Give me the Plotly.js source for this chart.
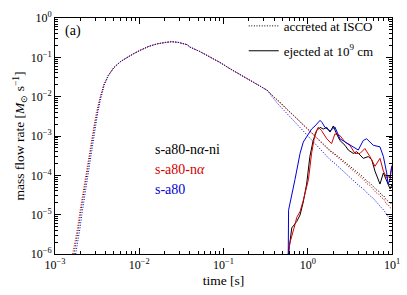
<!DOCTYPE html>
<html><head><meta charset="utf-8">
<script src="https://cdn.plot.ly/plotly-3.0.1.min.js"></script>
<style>html,body{margin:0;padding:0;background:#fff;}#chart{width:407px;height:295px;}
#chart svg text{font-family:"Liberation Serif","Times New Roman",serif !important;}</style>
</head><body><div id="chart"></div>
<script>
// ---- accreted at ISCO (dotted) ----
const tAccRed = [1.62e-3,1.75e-3,1.85e-3,1.95e-3,2.1e-3,2.3e-3,2.5e-3,2.7e-3,2.9e-3,3.1e-3,3.4e-3,3.8e-3,4.3e-3,5.0e-3,6.0e-3,7.2e-3,8.6e-3,1.02e-2,1.3e-2,1.63e-2,2.0e-2,2.4e-2,2.9e-2,3.7e-2,4.0e-2,5.26e-2,6.9e-2,0.09,0.119,0.16,0.206,0.25,0.294,0.328,0.4,0.47,0.6,0.8,1.0,1.3,1.6,1.84,2.1,2.3,2.5,2.8,3.2,3.6,4.0,4.56,5.0,5.5,6.0,6.5,7.0,7.5,8.0,8.5,9.0,9.5,10];
const yAccRed = [1e-6,2.2e-6,4.5e-6,1.0e-5,2.8e-5,9e-5,2.5e-4,7e-4,1.8e-3,4.0e-3,9e-3,2.0e-2,3.5e-2,5.5e-2,7.8e-2,0.1,0.125,0.15,0.19,0.22,0.24,0.25,0.24,0.21,0.182,0.14,0.102,0.075,0.0516,0.036,0.026,0.02,0.0165,0.0147,0.0095,0.007,0.0042,0.00235,0.00146,8.5e-4,5.5e-4,4.1e-4,3.3e-4,2.8e-4,2.3e-4,1.95e-4,1.5e-4,1.25e-4,1.0e-4,7.9e-5,6.2e-5,5.5e-5,4.4e-5,3.6e-5,3.3e-5,2.7e-5,2.5e-5,1.9e-5,1.8e-5,1.5e-5,1.44e-5];

const tAccBlack = [1.68e-3,1.8e-3,1.9e-3,2.0e-3,2.15e-3,2.35e-3,2.55e-3,2.75e-3,2.95e-3,3.15e-3,3.4e-3,3.8e-3,4.3e-3,5.0e-3,6.0e-3,7.2e-3,8.6e-3,1.02e-2,1.3e-2,1.63e-2,2.0e-2,2.4e-2,2.9e-2,3.7e-2,4.0e-2,5.26e-2,6.9e-2,0.09,0.119,0.16,0.206,0.25,0.294,0.328,0.4,0.47,0.6,0.8,1.0,1.3,1.6,1.84,2.1,2.3,2.5,2.8,3.2,3.6,4.0,4.56,5.0,5.5,6.0,6.5,7.0,7.5,8.0,8.5,9.0,9.5,10];
const yAccBlack = [1e-6,2.2e-6,4.5e-6,1.0e-5,2.8e-5,9e-5,2.5e-4,7e-4,1.8e-3,4.0e-3,8.5e-3,2.0e-2,3.5e-2,5.5e-2,7.8e-2,0.1,0.125,0.15,0.19,0.22,0.24,0.25,0.24,0.21,0.182,0.14,0.102,0.075,0.0516,0.036,0.026,0.02,0.0165,0.0147,0.0097,0.0072,0.0043,0.0024,0.0015,8.8e-4,5.7e-4,4.3e-4,3.5e-4,3.0e-4,2.5e-4,2.1e-4,1.65e-4,1.4e-4,1.15e-4,9.0e-5,7.2e-5,6.3e-5,5.2e-5,4.3e-5,3.9e-5,3.2e-5,3.0e-5,2.4e-5,2.2e-5,1.9e-5,2.0e-5];

const tAccBlue = [1.76e-3,1.88e-3,1.98e-3,2.08e-3,2.25e-3,2.45e-3,2.65e-3,2.85e-3,3.05e-3,3.22e-3,3.5e-3,3.85e-3,4.3e-3,5.0e-3,6.0e-3,7.2e-3,8.6e-3,1.02e-2,1.3e-2,1.63e-2,2.0e-2,2.4e-2,2.9e-2,3.7e-2,4.0e-2,5.26e-2,6.9e-2,0.09,0.119,0.16,0.206,0.25,0.294,0.33,0.43,0.6,0.8,1.0,1.3,1.6,1.84,2.1,2.5,2.8,3.2,3.6,4.0,4.56,5.0,5.5,6.0,6.5,7.0,7.5,8.0,8.5,9.0,9.5,10];
const yAccBlue = [1e-6,2.2e-6,4.5e-6,1.0e-5,2.8e-5,9e-5,2.5e-4,7e-4,1.8e-3,4.0e-3,9e-3,2.0e-2,3.4e-2,5.5e-2,7.8e-2,0.1,0.125,0.15,0.19,0.22,0.24,0.25,0.24,0.21,0.182,0.14,0.102,0.075,0.0516,0.036,0.026,0.02,0.0165,0.0145,0.007,0.0033,0.0017,0.001,5.6e-4,3.6e-4,2.5e-4,2.0e-4,1.4e-4,1.15e-4,8.5e-5,7.0e-5,5.6e-5,4.5e-5,3.6e-5,3.0e-5,2.6e-5,2.1e-5,1.8e-5,1.5e-5,1.3e-5,1.05e-5,9e-6,7.5e-6,6.7e-6];

// ---- ejected at 1e9 cm (solid) ----
const tEjBlack = [0.59,0.646,0.74,0.81,0.885,0.97,1.06,1.16,1.28,1.40,1.53,1.68,1.84,2.01,2.2,2.41,2.77,3.03,3.47,3.81,4.17,4.56,5.23,5.74,6.28,6.87,7.2,7.9,8.65,9.5,10];
const yEjBlack = [1e-6,4.6e-6,6.7e-6,9.8e-6,2.1e-5,6.0e-5,3.0e-4,7.7e-4,1.37e-3,1.66e-3,1.5e-3,1.66e-3,1.26e-3,1.8e-3,1.13e-3,7.7e-4,5.8e-4,4.4e-4,3.6e-4,4.0e-4,3.3e-4,2.7e-4,3.0e-4,2.5e-4,1.28e-4,7.9e-5,6.0e-5,1.15e-4,7.2e-5,4.5e-5,6.0e-5];

const tEjRed = [0.587,0.615,0.706,0.74,0.81,0.885,1.02,1.11,1.22,1.33,1.46,1.68,1.92,2.1,2.41,2.77,3.17,3.63,4.17,4.77,5.47,6.28,7.2,7.9,8.65,9.5,10];
const yEjRed = [1e-6,1.95e-6,5.6e-6,8.5e-6,1.2e-5,2.3e-5,7.9e-5,3.6e-4,1.13e-3,1.66e-3,1.37e-3,8.5e-4,6.4e-4,1.13e-3,1.03e-3,7.0e-4,5.8e-4,3.6e-4,3.6e-4,4.8e-4,3.0e-4,1.7e-4,2.7e-4,1.28e-4,8.7e-5,9.6e-5,1.8e-4];

const tEjBlue = [0.587,0.592,0.706,0.81,0.885,0.97,1.11,1.22,1.40,1.48,1.60,1.84,2.1,2.41,3.17,3.98,4.56,5.0,6.0,7.2,7.9,8.65,9.0,9.5,9.9];
const yEjBlue = [1e-6,1.3e-5,7.9e-5,3.6e-4,7.0e-4,9.4e-4,1.5e-3,1.8e-3,2.5e-3,2.2e-3,1.66e-3,1.35e-3,1.7e-3,8.5e-4,5.8e-4,4.4e-4,7.7e-4,8.5e-4,5.8e-4,5.3e-4,3.0e-4,1.15e-4,6.0e-5,7.9e-5,1.7e-4];

// ---- ticks & labels ----
const xTickVals = [1e-3,1e-2,1e-1,1,10];
const xTickText = ['10<sup>−3</sup>','10<sup>−2</sup>','10<sup>−1</sup>','10<sup>0</sup>','10<sup>1</sup>'];
const yTickVals = [1e-6,1e-5,1e-4,1e-3,1e-2,1e-1,1];
const yTickText = ['10<sup>−6</sup>','10<sup>−5</sup>','10<sup>−4</sup>','10<sup>−3</sup>','10<sup>−2</sup>','10<sup>−1</sup>','10<sup>0</sup>'];
const modelNames = ['s-a80-n<i>α</i>-ni','s-a80-n<i>α</i>','s-a80'];

const BLACK='#000000', RED='rgb(215,0,0)', BLUE='rgb(0,0,215)';
const FONT='Liberation Serif';
const DOT='1px,1.6px';

const traces = [
  {x:tAccBlack,y:yAccBlack,mode:'lines',line:{color:BLACK,width:1,dash:DOT},name:'accreted at ISCO',legendgroup:'a',showlegend:true},
  {x:tAccRed,y:yAccRed,mode:'lines',line:{color:RED,width:1,dash:DOT},showlegend:false},
  {x:tAccBlue,y:yAccBlue,mode:'lines',line:{color:BLUE,width:1,dash:DOT},showlegend:false},
  {x:tEjBlack,y:yEjBlack,mode:'lines',line:{color:BLACK,width:1},name:'ejected at 10<sup>9</sup> cm',legendgroup:'b',showlegend:true},
  {x:tEjRed,y:yEjRed,mode:'lines',line:{color:RED,width:1},showlegend:false},
  {x:tEjBlue,y:yEjBlue,mode:'lines',line:{color:BLUE,width:1},showlegend:false}
];

const axisCommon = {
  type:'log', showgrid:false, zeroline:false, showline:true, linecolor:'#000', linewidth:1,
  mirror:'allticks', ticks:'inside', ticklen:6, tickwidth:1, tickcolor:'#000',
  tickfont:{family:FONT,size:12,color:'#000'},
  minor:{ticks:'inside',ticklen:3,tickwidth:1,tickcolor:'#000',dtick:'D1',showgrid:false}
};

const layout = {
  width:407, height:295,
  margin:{l:55,r:15,t:11,b:41},
  paper_bgcolor:'#fff', plot_bgcolor:'#fff',
  font:{family:FONT,color:'#000'},
  xaxis:Object.assign({}, axisCommon, {range:[-3,1], tickmode:'array', tickvals:xTickVals, ticktext:xTickText,
    title:{text:'time [s]', font:{family:FONT,size:13.5}, standoff:4}}),
  yaxis:Object.assign({}, axisCommon, {range:[-6,0], tickmode:'array', tickvals:yTickVals, ticktext:yTickText,
    title:{text:'mass flow rate [<i>M</i><sub>⊙</sub> s<sup>−1</sup>]', font:{family:FONT,size:13.5}, standoff:2}}),
  showlegend:true,
  legend:{x:0.56,y:1.03,xanchor:'left',yanchor:'top',bgcolor:'rgba(0,0,0,0)',font:{family:FONT,size:13},tracegroupgap:5},
  annotations:[
    {xref:'paper',yref:'paper',x:0.024,y:0.945,xanchor:'left',yanchor:'middle',text:'(a)',showarrow:false,font:{family:FONT,size:14,color:'#000'}},
    {xref:'paper',yref:'paper',x:0.29,y:0.441,xanchor:'left',yanchor:'middle',text:modelNames[0],showarrow:false,font:{family:FONT,size:14,color:BLACK}},
    {xref:'paper',yref:'paper',x:0.29,y:0.358,xanchor:'left',yanchor:'middle',text:modelNames[1],showarrow:false,font:{family:FONT,size:14,color:RED}},
    {xref:'paper',yref:'paper',x:0.29,y:0.272,xanchor:'left',yanchor:'middle',text:modelNames[2],showarrow:false,font:{family:FONT,size:14,color:BLUE}}
  ]
};

Plotly.newPlot('chart', traces, layout, {staticPlot:true, displayModeBar:false});
</script>
</body></html>
